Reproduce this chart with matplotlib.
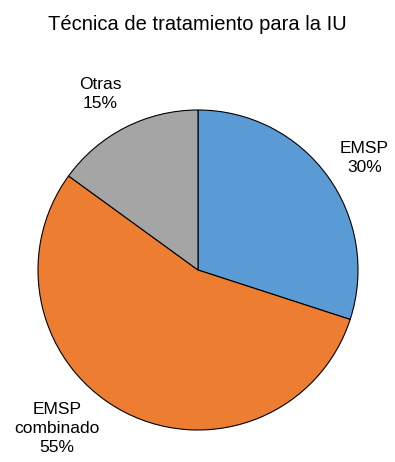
import matplotlib
matplotlib.use('Agg')
import matplotlib.pyplot as plt

# data
labels = ['EMSP', 'EMSP\ncombinado', 'Otras']
shares = [30, 55, 15]
colors = ['#5B9BD5', '#ED7D31', '#A5A5A5']
title = 'Técnica de tratamiento para la IU'

# label anchors in pie-radius units (layout only)
label_pos = [(1.04, 0.70), (-0.88, -0.99), (-0.61, 1.10)]

plt.rcParams['font.family'] = ['Liberation Sans', 'DejaVu Sans']

fig = plt.figure(figsize=(3.95, 4.62), dpi=100)
ax = fig.add_axes([38 / 395, 32 / 462, 320 / 395, 320 / 462])

ax.pie(shares, colors=colors, startangle=90, counterclock=False,
       wedgeprops={'edgecolor': 'black', 'linewidth': 0.8})
ax.set_xlim(-1, 1)
ax.set_ylim(-1, 1)
ax.set_aspect('equal')

for lab, val, (x, y) in zip(labels, shares, label_pos):
    ax.text(x, y, f'{lab}\n{val}%', ha='center', va='center',
            fontsize=12.5, linespacing=1.3, clip_on=False)

fig.text(0.499, 1 - 24 / 462, title, ha='center', va='center', fontsize=14.5)

fig.savefig('out.png', dpi=100)
